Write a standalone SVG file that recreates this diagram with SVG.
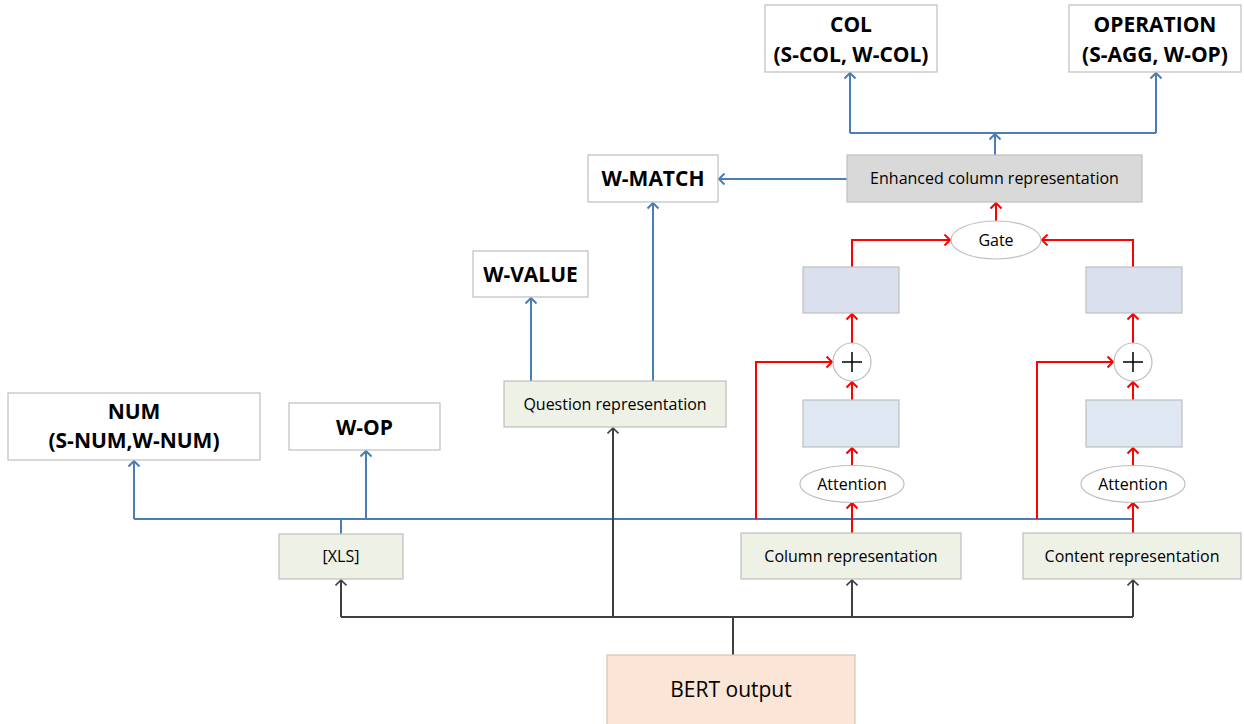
<svg xmlns="http://www.w3.org/2000/svg" width="1244" height="724" viewBox="0 0 1244 724">
<style>
.box{stroke:#bfbfbf;stroke-width:1.2}
.out{fill:#ffffff}
.rep{fill:#eef1e6}
.up{fill:#dae0ed}
.low{fill:#dfe8f2}
.enh{fill:#d9d9d9}
.bert{fill:#fbe5d6;stroke:#d8c3b5}
.ell{fill:#ffffff;stroke:#bfbfbf;stroke-width:1.2}
.t{font-family:"Open Sans","Liberation Sans",sans-serif;font-size:16px;fill:#000;text-anchor:middle}
.b{font-family:"Open Sans","Liberation Sans",sans-serif;font-size:21px;font-weight:bold;fill:#000;text-anchor:middle}
.blue{stroke:#4a7eb5;stroke-width:2;fill:none}
.red{stroke:#ff0000;stroke-width:2;fill:none}
.dark{stroke:#404040;stroke-width:2;fill:none}
</style>
<defs>
<marker id="ab" markerUnits="userSpaceOnUse" markerWidth="12" markerHeight="12" viewBox="0 0 12 12" refX="11" refY="6" orient="auto"><path d="M5.5,0.5 L11,6 L5.5,11.5" fill="none" stroke="#4a7eb5" stroke-width="2"/></marker>
<marker id="ar" markerUnits="userSpaceOnUse" markerWidth="12" markerHeight="12" viewBox="0 0 12 12" refX="11" refY="6" orient="auto"><path d="M5.5,0.5 L11,6 L5.5,11.5" fill="none" stroke="#ff0000" stroke-width="2"/></marker>
<marker id="ad" markerUnits="userSpaceOnUse" markerWidth="12" markerHeight="12" viewBox="0 0 12 12" refX="11" refY="6" orient="auto"><path d="M5.5,0.5 L11,6 L5.5,11.5" fill="none" stroke="#404040" stroke-width="1.6"/></marker>
</defs>
<rect width="1244" height="724" fill="#ffffff"/>

<g id="connectors">
<!-- blue -->
<path class="blue" d="M995,155 V134" marker-end="url(#ab)"/>
<path class="blue" d="M850,133 H1156"/>
<path class="blue" d="M850,133 V73" marker-end="url(#ab)"/>
<path class="blue" d="M1156,133 V73" marker-end="url(#ab)"/>
<path class="blue" d="M847,179 H719" marker-end="url(#ab)"/>
<path class="blue" d="M653,381 V203" marker-end="url(#ab)"/>
<path class="blue" d="M531,381 V298" marker-end="url(#ab)"/>
<path class="blue" d="M134,519 H1133"/>
<path class="blue" d="M134,519 V461" marker-end="url(#ab)"/>
<path class="blue" d="M366,519 V451" marker-end="url(#ab)"/>
<path class="blue" d="M341,534 V519"/>
<!-- red -->
<path class="red" d="M996,221 V203" marker-end="url(#ar)"/>
<path class="red" d="M852,267 V240 H950" marker-end="url(#ar)"/>
<path class="red" d="M1133,267 V240 H1042" marker-end="url(#ar)"/>
<path class="red" d="M852,343 V314" marker-end="url(#ar)"/>
<path class="red" d="M1133,343 V314" marker-end="url(#ar)"/>
<path class="red" d="M852,400 V382" marker-end="url(#ar)"/>
<path class="red" d="M1133,400 V382" marker-end="url(#ar)"/>
<path class="red" d="M852,466 V448" marker-end="url(#ar)"/>
<path class="red" d="M1133,466 V448" marker-end="url(#ar)"/>
<path class="red" d="M852,533 V503" marker-end="url(#ar)"/>
<path class="red" d="M1133,533 V503" marker-end="url(#ar)"/>
<path class="red" d="M756,519 V362 H832" marker-end="url(#ar)"/>
<path class="red" d="M1037,519 V362 H1113" marker-end="url(#ar)"/>
<!-- dark -->
<path class="dark" d="M733,655 V617" stroke-width="1.6"/>
<path class="dark" d="M341,617 H1133"/>
<path class="dark" d="M341,617 V580" stroke-width="1.6" marker-end="url(#ad)"/>
<path class="dark" d="M852,617 V580" stroke-width="1.6" marker-end="url(#ad)"/>
<path class="dark" d="M1133,617 V580" stroke-width="1.6" marker-end="url(#ad)"/>
<path class="dark" d="M613,617 V428" stroke-width="1.6" marker-end="url(#ad)"/>
</g>

<g id="col-out"><rect class="box out" x="765" y="5" width="172" height="67"/><text class="b" x="851" y="32">COL</text><text class="b" x="851" y="62">(S-COL, W-COL)</text></g>
<g id="operation-out"><rect class="box out" x="1069" y="5" width="172" height="67"/><text class="b" x="1155" y="32">OPERATION</text><text class="b" x="1155" y="62">(S-AGG, W-OP)</text></g>
<g id="enhanced"><rect class="box enh" x="847" y="155" width="295" height="47"/><text class="t" x="994.5" y="184">Enhanced column representation</text></g>
<g id="w-match"><rect class="box out" x="588" y="155" width="130" height="47"/><text class="b" x="653" y="186">W-MATCH</text></g>
<g id="w-value"><rect class="box out" x="473" y="251" width="115" height="46"/><text class="b" x="530.5" y="282">W-VALUE</text></g>
<g id="gate"><ellipse class="ell" cx="996" cy="240" rx="45" ry="19"/><text class="t" x="996" y="246">Gate</text></g>
<g id="upper-left"><rect class="box up" x="803" y="267" width="96" height="46"/></g>
<g id="upper-right"><rect class="box up" x="1086" y="267" width="96" height="46"/></g>
<g id="plus-left"><circle class="ell" cx="852" cy="362" r="19"/><path d="M842,362 H862 M852,352 V372" stroke="#000" stroke-width="1.5"/></g>
<g id="plus-right"><circle class="ell" cx="1133" cy="362" r="19"/><path d="M1123,362 H1143 M1133,352 V372" stroke="#000" stroke-width="1.5"/></g>
<g id="lower-left"><rect class="box low" x="803" y="400" width="96" height="47"/></g>
<g id="lower-right"><rect class="box low" x="1086" y="400" width="96" height="47"/></g>
<g id="attention-left"><ellipse class="ell" cx="852" cy="484" rx="52" ry="18.5"/><text class="t" x="852" y="490">Attention</text></g>
<g id="attention-right"><ellipse class="ell" cx="1133" cy="484" rx="52" ry="18.5"/><text class="t" x="1133" y="490">Attention</text></g>
<g id="question"><rect class="box rep" x="504" y="381" width="222" height="46"/><text class="t" x="615" y="410">Question representation</text></g>
<g id="num-out"><rect class="box out" x="8" y="393" width="252" height="67"/><text class="b" x="134" y="419">NUM</text><text class="b" x="134" y="448">(S-NUM,W-NUM)</text></g>
<g id="w-op"><rect class="box out" x="289" y="403" width="151" height="47"/><text class="b" x="364.5" y="435">W-OP</text></g>
<g id="xls"><rect class="box rep" x="279" y="534" width="124" height="45"/><text class="t" x="341" y="562">[XLS]</text></g>
<g id="column"><rect class="box rep" x="741" y="533" width="220" height="46"/><text class="t" x="851" y="562">Column representation</text></g>
<g id="content"><rect class="box rep" x="1023" y="533" width="218" height="46"/><text class="t" x="1132" y="562">Content representation</text></g>
<g id="bert"><rect class="bert" x="607" y="655" width="248" height="80" stroke-width="1.2"/><text class="t" x="731" y="697" style="font-size:21px">BERT output</text></g>
</svg>
